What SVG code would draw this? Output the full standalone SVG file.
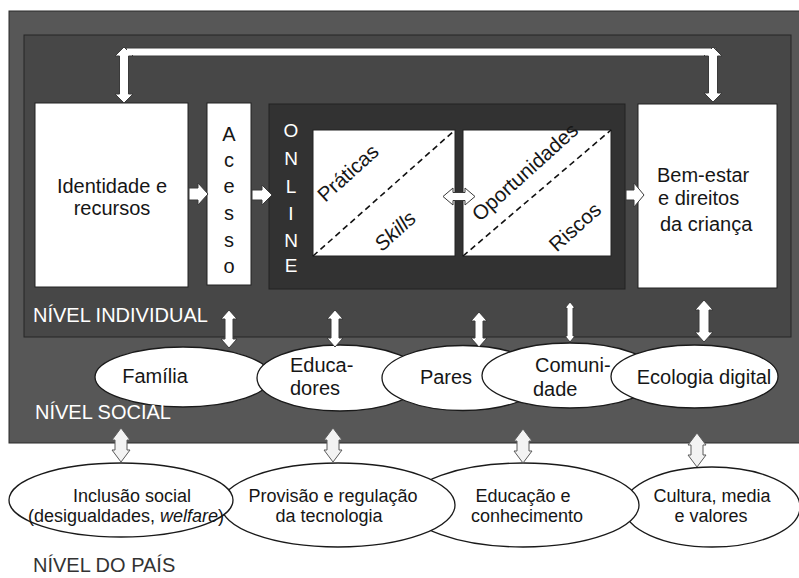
<svg xmlns="http://www.w3.org/2000/svg" width="799" height="578" viewBox="0 0 799 578">
<style>
text{font-family:"Liberation Sans",Arial,sans-serif;fill:#161616}
.t20{font-size:20px}
.t19{font-size:19px}
.t18{font-size:18px}
.rot{font-size:20.5px}
.lvl{font-size:20px;fill:#ffffff}
.wb{fill:#ffffff;stroke:#222;stroke-width:1}
.el{fill:#ffffff;stroke:#1a1a1a;stroke-width:1.3}
.ar{fill:#ffffff;stroke:#3a3a3a;stroke-width:1}
.ar2{fill:#f3f3f3;stroke:#5a5a5a;stroke-width:1}
.dash{stroke:#111;stroke-width:1.6;stroke-dasharray:6,4;fill:none}
.wt{fill:#ffffff}
</style>

<g id="nivel-social-bg">
<rect x="9" y="11" width="795" height="432" fill="#575757" stroke="#2a2a2a" stroke-width="1"/>
</g>
<g id="nivel-individual-bg">
<rect x="24" y="35" width="767" height="302" fill="#474747" stroke="#262626" stroke-width="1"/>
</g>

<g id="identidade">
<rect class="wb" x="35" y="103" width="153" height="184"/>
<text class="t20" x="112" y="193" text-anchor="middle">Identidade e</text>
<text class="t20" x="112" y="215" text-anchor="middle">recursos</text>
</g>

<g id="acesso">
<rect class="wb" x="207" y="103" width="44" height="182"/>
<g class="t20" text-anchor="middle">
<text x="229" y="141">A</text>
<text x="229" y="167">c</text>
<text x="229" y="193">e</text>
<text x="229" y="220">s</text>
<text x="229" y="247">s</text>
<text x="229" y="273">o</text>
</g>
</g>

<g id="online">
<rect x="269" y="104" width="356" height="185" fill="#323232" stroke="#222" stroke-width="1"/>
<g class="t19" text-anchor="middle">
<text class="wt" x="291" y="137">O</text>
<text class="wt" x="291" y="165">N</text>
<text class="wt" x="291" y="193">L</text>
<text class="wt" x="291" y="220">I</text>
<text class="wt" x="291" y="247">N</text>
<text class="wt" x="291" y="272">E</text>
</g>
</g>

<g id="praticas-skills">
<rect class="wb" x="313" y="130" width="142" height="126"/>
<line class="dash" x1="313" y1="256" x2="455" y2="130"/>
<text class="rot" text-anchor="middle" transform="translate(348,173) rotate(-42)" y="7">Práticas</text>
<text class="rot" text-anchor="middle" font-style="italic" transform="translate(395,231) rotate(-42)" y="7">Skills</text>
</g>

<g id="oportunidades-riscos">
<rect class="wb" x="463" y="130" width="148" height="126"/>
<line class="dash" x1="463" y1="256" x2="611" y2="130"/>
<text class="rot" text-anchor="middle" transform="translate(525,172) rotate(-42)" y="7">Oportunidades</text>
<text class="rot" text-anchor="middle" transform="translate(575,227) rotate(-42)" y="7">Riscos</text>
</g>

<g id="bem-estar">
<rect class="wb" x="638" y="104" width="139" height="184"/>
<text class="t20" x="657" y="182">Bem-estar</text>
<text class="t20" x="658" y="205">e direitos</text>
<text class="t20" x="660" y="231">da criança</text>
</g>

<g id="labels">
<text class="lvl" x="33" y="322">NÍVEL INDIVIDUAL</text>
</g>

<g id="familia">
<ellipse class="el" cx="183" cy="377" rx="88" ry="30"/>
<text class="t20" x="155" y="383" text-anchor="middle">Família</text>
</g>
<g id="educadores">
<ellipse class="el" cx="340" cy="378" rx="83" ry="33"/>
<text class="t20" x="290" y="372">Educa-</text>
<text class="t20" x="290" y="395">dores</text>
</g>
<g id="pares">
<ellipse class="el" cx="463" cy="378" rx="81" ry="32.5"/>
<text class="t20" x="446" y="384" text-anchor="middle">Pares</text>
</g>
<g id="comunidade">
<ellipse class="el" cx="570" cy="375.5" rx="88" ry="32.5"/>
<text class="t20" x="535" y="372">Comuni-</text>
<text class="t20" x="533" y="396">dade</text>
</g>
<g id="ecologia-digital">
<ellipse class="el" cx="694.5" cy="376.5" rx="83.5" ry="31.5"/>
<text class="t20" x="704" y="384" text-anchor="middle">Ecologia digital</text>
</g>

<g id="labels-social">
<text class="lvl" x="35" y="419">NÍVEL SOCIAL</text>
</g>

<g id="cultura">
<ellipse class="el" cx="712" cy="507" rx="88" ry="40"/>
<text class="t18" x="712" y="502" text-anchor="middle">Cultura, media</text>
<text class="t18" x="711" y="522" text-anchor="middle">e valores</text>
</g>
<g id="educacao">
<ellipse class="el" cx="523" cy="505" rx="116" ry="42"/>
<text class="t18" x="523" y="502" text-anchor="middle">Educação e</text>
<text class="t18" x="527" y="522" text-anchor="middle">conhecimento</text>
</g>
<g id="provisao">
<ellipse class="el" cx="338" cy="505" rx="117" ry="42"/>
<text class="t18" x="333" y="502" text-anchor="middle">Provisão e regulação</text>
<text class="t18" x="329" y="522" text-anchor="middle">da tecnologia</text>
</g>
<g id="inclusao">
<ellipse class="el" cx="121" cy="500" rx="112" ry="37"/>
<text class="t18" x="132" y="502" text-anchor="middle">Inclusão social</text>
<text class="t18" x="126" y="522" text-anchor="middle">(desigualdades, <tspan font-style="italic">welfare</tspan>)</text>
</g>

<g id="label-pais">
<text class="t20" x="33" y="572" style="fill:#333">NÍVEL DO PAÍS</text>
</g>

<g id="connectors">
<rect class="ar" x="126" y="48" width="590" height="8"/>
<polygon class="ar" points="124,47 133,56 128.5,56 128.5,94 133,94 124,103 115,94 119.5,94 119.5,56 115,56"/>
<polygon class="ar" points="713,47 722,56 717.5,56 717.5,93 722,93 713,102 704,93 708.5,93 708.5,56 704,56"/>
<rect x="127" y="49" width="587" height="6" fill="#ffffff"/>
<polygon class="ar" points="189,188 198,188 198,183 208,194 198,205 198,200 189,200"/>
<polygon class="ar" points="252,190 262,190 262,185 272,195 262,205 262,200 252,200"/>
<polygon class="ar" points="443,196.5 453,188 453,192.5 465,192.5 465,188 475,196.5 465,205 465,200.5 453,200.5 453,205"/>
<polygon class="ar" points="626,190 634,190 634,183 644,195 634,207 634,200 626,200"/>
<polygon class="ar" points="229,310 237,319 233,319 233,339 237,339 229,348 221,339 225,339 225,319 221,319"/>
<polygon class="ar" points="335,310 343,319 339,319 339,338 343,338 335,347 327,338 331,338 331,319 327,319"/>
<polygon class="ar" points="479,312 487,321 483,321 483,338 487,338 479,347 471,338 475,338 475,321 471,321"/>
<polygon class="ar" points="570,302 575,308 573,308 573,336 575,336 570,342 565,336 567,336 567,308 565,308"/>
<polygon class="ar" points="704,300 713,310 709,310 709,332 713,332 704,342 695,332 699,332 699,310 695,310"/>
<polygon class="ar2" points="121,428 130,440 127,440 127,450 130,450 121,462 112,450 115,450 115,440 112,440"/>
<polygon class="ar2" points="333,428 342,440 339,440 339,450 342,450 333,462 324,450 327,450 327,440 324,440"/>
<polygon class="ar2" points="523,429 532,441 529,441 529,451 532,451 523,463 514,451 517,451 517,441 514,441"/>
<polygon class="ar2" points="697,433 706,445 703,445 703,455 706,455 697,467 688,455 691,455 691,445 688,445"/>
</g>
</svg>
